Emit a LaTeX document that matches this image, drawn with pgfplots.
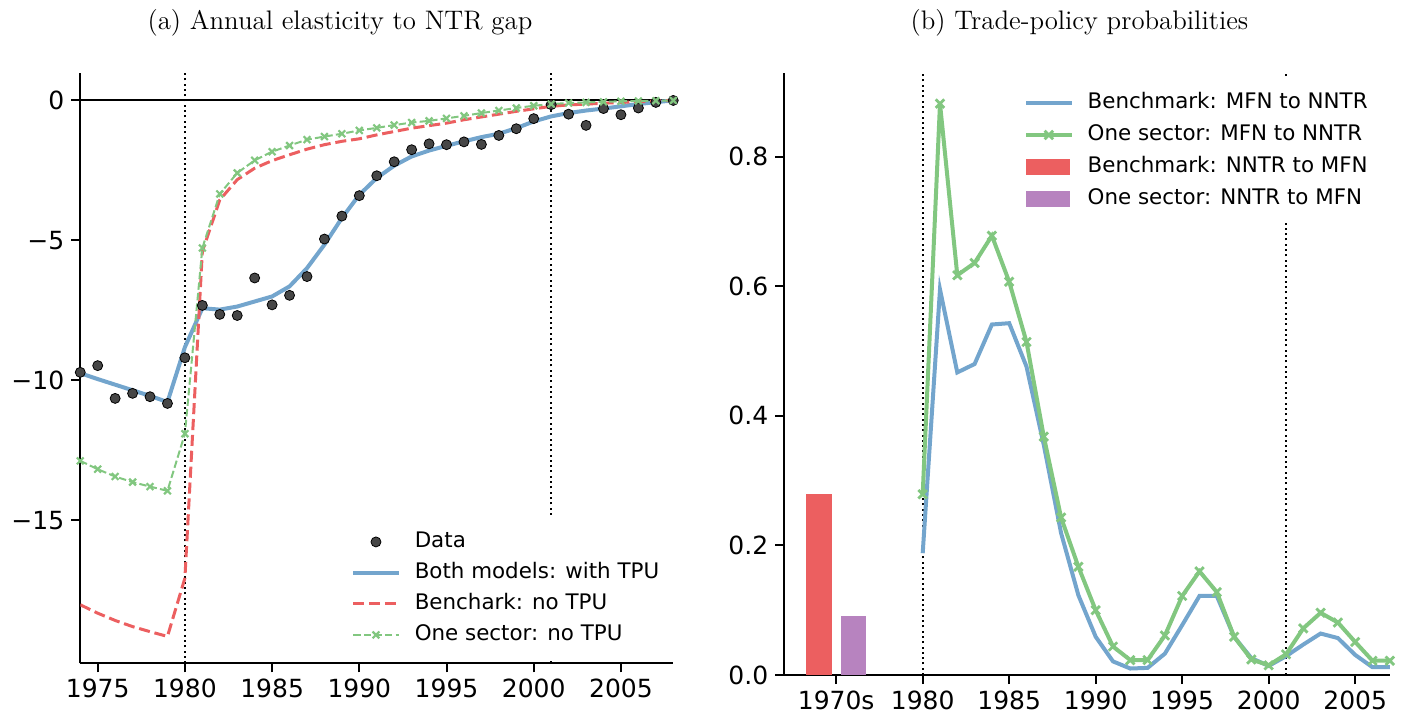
\documentclass[border=0pt]{standalone}
\usepackage{fontspec}
\usepackage{pgfplots}
\usepackage{pgfplotstable}
\pgfplotsset{compat=1.18}
\newfontfamily\dejavu{DejaVu Sans}
\definecolor{cblue}{RGB}{115,165,205}
\definecolor{cred}{RGB}{236,95,96}
\definecolor{cgreen}{RGB}{130,199,128}
\definecolor{cpurple}{RGB}{183,131,191}
\definecolor{cdot}{RGB}{70,70,70}

\pgfplotstableread{
year data both nobench nosector
1974 -9.71 -9.74 -18.01 -12.87
1975 -9.47 -9.95 -18.31 -13.17
1976 -10.64 -10.15 -18.57 -13.43
1977 -10.46 -10.35 -18.79 -13.63
1978 -10.58 -10.55 -18.97 -13.79
1979 -10.82 -10.77 -19.14 -13.94
1980 -9.19 -8.81 -17.06 -11.90
1981 -7.32 -7.42 -5.40 -5.27
1982 -7.64 -7.47 -3.55 -3.34
1983 -7.68 -7.36 -2.83 -2.59
1984 -6.34 -7.18 -2.42 -2.14
1985 -7.30 -7.00 -2.15 -1.83
1986 -6.96 -6.64 -1.94 -1.61
1987 -6.29 -5.99 -1.74 -1.40
1988 -4.95 -5.15 -1.58 -1.29
1989 -4.13 -4.20 -1.46 -1.19
1990 -3.40 -3.37 -1.37 -1.07
1991 -2.69 -2.77 -1.23 -0.98
1992 -2.19 -2.33 -1.11 -0.88
1993 -1.76 -2.00 -0.99 -0.79
1994 -1.55 -1.79 -0.90 -0.73
1995 -1.58 -1.62 -0.81 -0.64
1996 -1.48 -1.46 -0.69 -0.55
1997 -1.57 -1.31 -0.59 -0.45
1998 -1.25 -1.19 -0.49 -0.36
1999 -1.01 -0.99 -0.39 -0.27
2000 -0.65 -0.75 -0.30 -0.19
2001 -0.15 -0.57 -0.21 -0.13
2002 -0.49 -0.45 -0.16 -0.09
2003 -0.89 -0.36 -0.13 -0.07
2004 -0.29 -0.29 -0.10 -0.05
2005 -0.51 -0.21 -0.07 -0.03
2006 -0.27 -0.13 -0.05 -0.02
2007 -0.07 -0.06 -0.02 -0.01
2008 0.00 0.00 0.00 0.00
}\lefttab

\pgfplotstableread{
year bench sector
1980 0.188 0.279
1981 0.595 0.882
1982 0.467 0.617
1983 0.480 0.636
1984 0.541 0.678
1985 0.543 0.607
1986 0.476 0.514
1987 0.355 0.368
1988 0.219 0.243
1989 0.123 0.167
1990 0.059 0.100
1991 0.021 0.044
1992 0.010 0.023
1993 0.011 0.023
1994 0.033 0.061
1995 0.077 0.122
1996 0.122 0.160
1997 0.122 0.128
1998 0.059 0.059
1999 0.026 0.024
2000 0.014 0.015
2001 0.029 0.032
2002 0.047 0.072
2003 0.064 0.096
2004 0.057 0.081
2005 0.031 0.051
2006 0.012 0.022
2007 0.012 0.022
}\righttab

\tikzset{dotline/.style={black, line width=1pt, dash pattern=on 1pt off 1.65pt}}

\pgfplotsset{
  base/.style={
    scale only axis,
    anchor=south west,
    axis x line*=bottom,
    axis y line*=left,
    axis line style={-, line width=1pt, black},
    tick align=outside,
    major tick length=4.5pt,
    every tick/.style={black, line width=1pt},
    tick label style={font=\dejavu\fontsize{12.5}{15}\selectfont},
    legend cell align=left,
    legend image code/.code={\draw[mark repeat=2,mark phase=2,#1] plot coordinates {(0pt,0pt) (11.4pt,0pt) (22.8pt,0pt)};},
  },
  lstyle/.style={
    draw=none, fill=white, inner sep=4.5pt, row sep=1pt, column sep=7pt,
    font=\dejavu\fontsize{10.7}{12}\selectfont,
    nodes={inner xsep=0pt, inner ysep=2pt, text height=8pt, text depth=2.5pt},
  },
}

\begin{document}
\begin{tikzpicture}
\useasboundingbox (0,0) rectangle (702.5pt,359.5pt);

\begin{axis}[base,
  at={(40.13pt,27.85pt)}, width=296.5pt, height=295.15pt,
  xmin=1974, xmax=2008, ymin=-20.1, ymax=0.98,
  xtick={1975,1980,1985,1990,1995,2000,2005},
  xticklabels={1975,1980,1985,1990,1995,2000,2005},
  ytick={-15,-10,-5,0},
  yticklabels={−15,−10,−5,0},
  legend style={lstyle, at={(0.4410,0.2461)}, anchor=north west},
]
\addplot[black, line width=1pt, forget plot] coordinates {(1974,0) (2008,0)};
\addplot[dotline, forget plot] coordinates {(1980,-20.1) (1980,0.98)};
\addplot[dotline, forget plot] coordinates {(2001,-20.1) (2001,0.98)};
\addplot[only marks, mark=*, mark size=2.5pt, mark options={fill=cdot, draw=none}] table[x=year,y=data]{\lefttab};
\addplot[cblue, line width=2pt, no marks] table[x=year,y=both]{\lefttab};
\addplot[cred, line width=1.5pt, dash pattern=on 5.55pt off 2.4pt, no marks] table[x=year,y=nobench]{\lefttab};
\addplot[cgreen, line width=1pt, dash pattern=on 3.7pt off 1.6pt, mark=x, mark size=2.4pt, mark options={solid, line width=1.1pt}] table[x=year,y=nosector]{\lefttab};
\legend{Data, Both models: with TPU, Benchark: no TPU, One sector: no TPU}
\end{axis}

\begin{axis}[base,
  at={(392.15pt,22pt)}, width=302.75pt, height=300.85pt,
  xmin=1972, xmax=2007, ymin=0, ymax=0.9287,
  xtick={1975,1980,1985,1990,1995,2000,2005},
  xticklabels={1970s,1980,1985,1990,1995,2000,2005},
  ytick={0,0.2,0.4,0.6,0.8},
  yticklabels={0.0,0.2,0.4,0.6,0.8},
  legend style={lstyle, row sep=1.5pt, at={(0.3805,0.9905)}, anchor=north west},
]
\addplot[dotline, forget plot] coordinates {(1980,0) (1980,0.9287)};
\addplot[dotline, forget plot] coordinates {(2001,0) (2001,0.9287)};
\addplot[cblue, line width=2pt, no marks] table[x=year,y=bench]{\righttab};
\addplot[cgreen, line width=2pt, mark=x, mark size=3pt, mark options={solid, line width=1.4pt}] table[x=year,y=sector]{\righttab};
\addplot[ybar, bar width=1.5, bar shift=0pt, fill=cred, draw=none,
  legend image code/.code={\fill[cred] (0pt,-4pt) rectangle (22pt,4pt);}] coordinates {(1974,0.280)};
\addplot[ybar, bar width=1.5, bar shift=0pt, fill=cpurple, draw=none,
  legend image code/.code={\fill[cpurple] (0pt,-4pt) rectangle (22pt,4pt);}] coordinates {(1976,0.091)};
\legend{Benchmark: MFN to NNTR, One sector: MFN to NNTR, Benchmark: NNTR to MFN, One sector: NNTR to MFN}
\end{axis}

\node[font=\fontsize{13.4}{16}\selectfont] at (170pt,348.25pt) {(a) Annual elasticity to NTR gap};
\node[font=\fontsize{13.4}{16}\selectfont] at (539.75pt,348.25pt) {(b) Trade-policy probabilities};
\end{tikzpicture}
\end{document}
